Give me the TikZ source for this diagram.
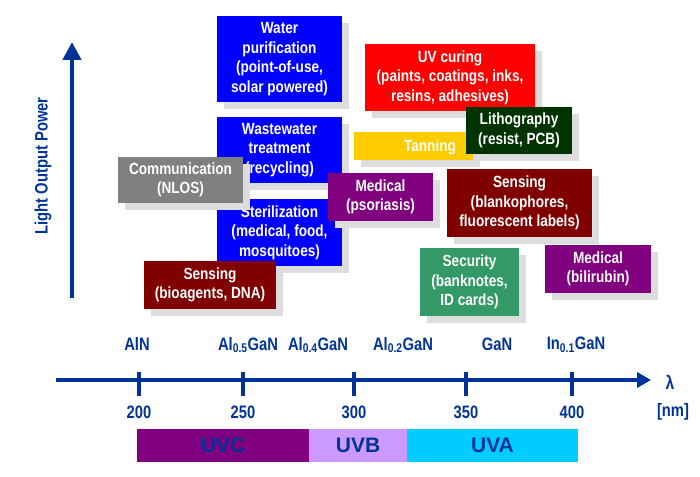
\documentclass[tikz,border=0pt]{standalone}
\usepackage{fontspec}
\setmainfont{Liberation Sans}
\newfontfamily\narrowfont{Liberation Sans}[FakeStretch=0.84]
\newfontfamily\axisfont{Liberation Sans}[FakeStretch=0.82]
\usetikzlibrary{arrows.meta,shadows}
\definecolor{cblue}{RGB}{0,0,255}
\definecolor{cgray}{RGB}{128,128,128}
\definecolor{cdarkred}{RGB}{128,0,0}
\definecolor{cred}{RGB}{255,0,0}
\definecolor{cyellow}{RGB}{255,204,0}
\definecolor{cdarkgreen}{RGB}{0,51,0}
\definecolor{cpurple}{RGB}{128,0,128}
\definecolor{cseagreen}{RGB}{51,153,102}
\definecolor{axisblue}{RGB}{0,51,153}
\definecolor{cuvb}{RGB}{204,153,255}
\definecolor{cuva}{RGB}{0,204,255}
\definecolor{shadowgray}{RGB}{221,221,221}
\tikzset{
  apptext/.style={text=white, font=\narrowfont\bfseries\fontsize{16.2}{19.5}\selectfont},
  appbox/.style={apptext, rectangle, inner sep=0pt, align=center,
    general shadow={shadow xshift=7pt, shadow yshift=-7pt, fill=shadowgray, opacity=1}},
  axislabel/.style={text=axisblue, font=\axisfont\bfseries\fontsize{18}{20}\selectfont, inner sep=0pt},
  bandlabel/.style={text=axisblue, font=\bfseries\fontsize{21}{24}\selectfont, inner sep=0pt},
  axisline/.style={draw=axisblue, line width=4.5pt},
}
\begin{document}
\begin{tikzpicture}[x=1pt,y=-1pt]
\useasboundingbox (0,0) rectangle (700,476);
% application boxes
\node[appbox, fill=cblue, minimum width=125pt, minimum height=86pt] (water) at (279.5,59) {Water\\purification\\(point-of-use,\\solar powered)};
\node[appbox, fill=cblue, minimum width=125pt, minimum height=66pt] (waste) at (279.5,150) {Wastewater\\treatment\\(recycling)};
\node[appbox, fill=cblue, minimum width=125pt, minimum height=67pt] (steril) at (279.5,232.5) {Sterilization\\(medical, food,\\mosquitoes)};
\node[appbox, fill=cgray, minimum width=125pt, minimum height=46pt] (comm) at (180.5,180) {Communication\\(NLOS)};
\node[appbox, fill=cdarkred, minimum width=132pt, minimum height=48pt] (bio) at (210,285) {Sensing\\(bioagents, DNA)};
\node[appbox, fill=cred, minimum width=170pt, minimum height=67pt] (uvcuring) at (450,77.5) {UV curing\\(paints, coatings, inks,\\resins, adhesives)};
\node[appbox, fill=cyellow, minimum width=119pt, minimum height=28pt] (tanning) at (413.5,146) {};
\node[apptext, inner sep=0pt] (tanningtext) at (430,147) {Tanning};
\node[appbox, fill=cdarkgreen, minimum width=106pt, minimum height=47pt] (litho) at (519,130.5) {Lithography\\(resist, PCB)};
\node[appbox, fill=cpurple, minimum width=105pt, minimum height=48pt] (psor) at (380.5,197) {Medical\\(psoriasis)};
\node[appbox, fill=cdarkred, minimum width=145pt, minimum height=68pt] (blank) at (519.5,203) {Sensing\\(blankophores,\\fluorescent labels)};
\node[appbox, fill=cseagreen, minimum width=99pt, minimum height=68pt] (security) at (469.5,282) {Security\\(banknotes,\\ID cards)};
\node[appbox, fill=cpurple, minimum width=106pt, minimum height=48pt] (bili) at (598,269) {Medical\\(bilirubin)};
% vertical axis
\coordinate (ybot) at (72,298);
\coordinate (ytop) at (72,42);
\draw[axisline, -{Triangle[length=18pt,width=18pt]}] (ybot) -- (ytop);
\node[axislabel, rotate=90] (ylabel) at (43,166) {Light Output Power};
% horizontal axis
\coordinate (xleft) at (56,380);
\coordinate (xright) at (651,380);
\draw[axisline, -{Triangle[length=14pt,width=15pt]}] (xleft) -- (xright);
\foreach \xx/\lab/\nm in {139/200/a, 243/250/b, 354/300/c, 466/350/d, 572/400/e}{
  \coordinate (t\nm top) at (\xx,372);
  \coordinate (t\nm bot) at (\xx,396);
  \draw[draw=axisblue, line width=4.5pt] (t\nm top) -- (t\nm bot);
  \node[axislabel] (l\nm) at (\xx,412) {\lab};
}
\node[axislabel] (lambda) at (670,382) {\fontsize{19}{20}\selectfont λ};
\node[axislabel] (unit) at (673,412) {[nm]};
% materials
\node[axislabel] (m1) at (137,344) {AlN};
\node[axislabel] (m2) at (248,345) {Al\textsubscript{0.5}GaN};
\node[axislabel] (m3) at (318,345) {Al\textsubscript{0.4}GaN};
\node[axislabel] (m4) at (403,345) {Al\textsubscript{0.2}GaN};
\node[axislabel] (m5) at (497,344) {GaN};
\node[axislabel] (m6) at (576,345) {In\textsubscript{0.1}GaN};
% bands
\node[fill=cpurple, minimum width=172pt, minimum height=33pt, inner sep=0pt] (uvc) at (223,445.5) {};
\node[fill=cuvb, minimum width=98pt, minimum height=33pt, inner sep=0pt] (uvb) at (358,445.5) {};
\node[fill=cuva, minimum width=171pt, minimum height=33pt, inner sep=0pt] (uva) at (492.5,445.5) {};
\node[bandlabel] (uvct) at (uvc) {UVC};
\node[bandlabel] (uvbt) at (uvb) {UVB};
\node[bandlabel] (uvat) at (uva) {UVA};
\end{tikzpicture}
\end{document}
